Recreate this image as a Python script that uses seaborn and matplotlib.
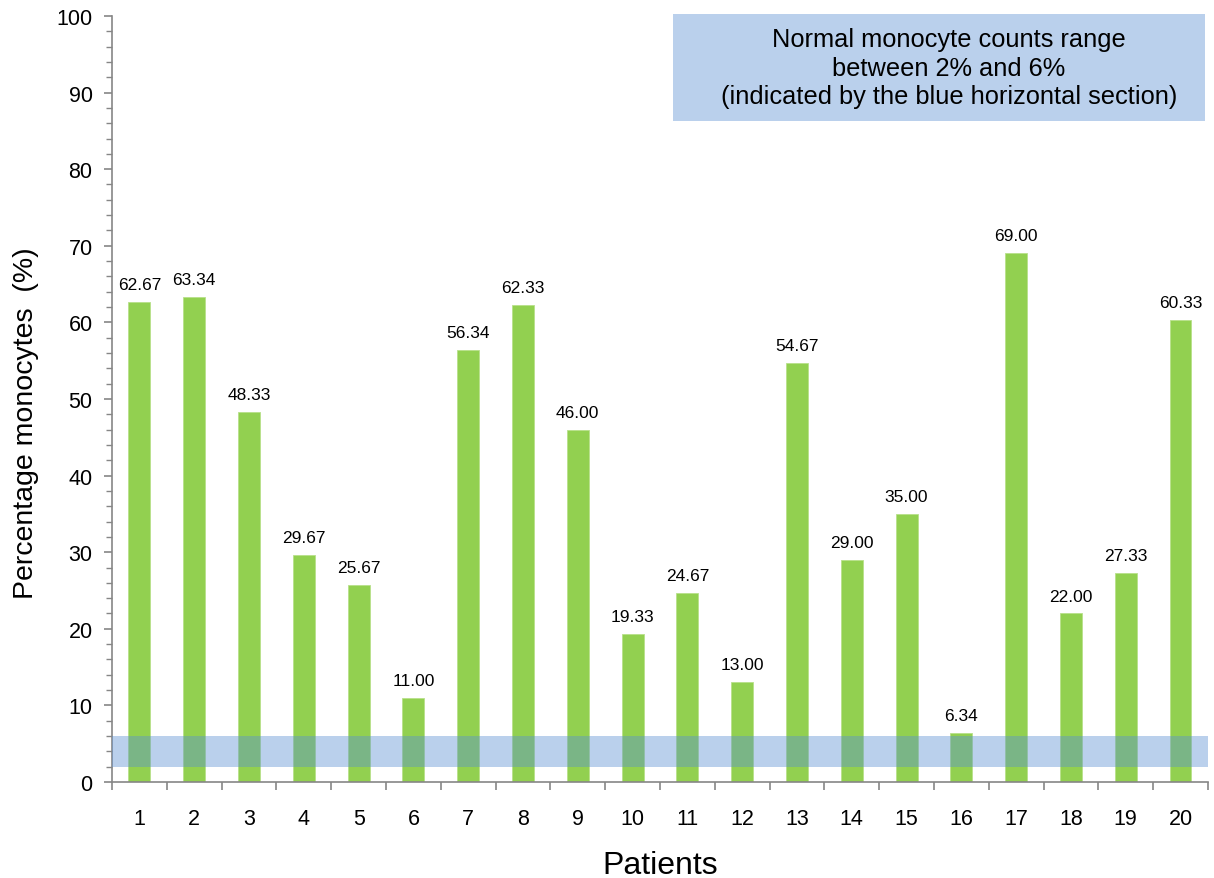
import matplotlib
matplotlib.use("Agg")
import matplotlib.pyplot as plt
import seaborn as sns
import pandas as pd
from matplotlib.patches import Rectangle
from matplotlib.ticker import MultipleLocator

patients = [str(i) for i in range(1, 21)]
monocytes = [62.67, 63.34, 48.33, 29.67, 25.67, 11.00, 56.34, 62.33, 46.00, 19.33,
             24.67, 13.00, 54.67, 29.00, 35.00, 6.34, 69.00, 22.00, 27.33, 60.33]
normal_low = 2
normal_high = 6
note = "Normal monocyte counts range\nbetween 2% and 6%\n(indicated by the blue horizontal section)"

sns.set_theme(style="white")
plt.rcParams['font.family'] = ['Liberation Sans', 'DejaVu Sans']
plt.rcParams['text.color'] = 'black'
plt.rcParams['axes.labelcolor'] = 'black'
plt.rcParams['xtick.labelcolor'] = 'black'
plt.rcParams['ytick.labelcolor'] = 'black'

df = pd.DataFrame({"Patient": patients, "Value": monocytes})

fig = plt.figure(figsize=(12.14, 8.79), dpi=100)
ax = fig.add_axes([0.0923, 0.1092, 0.9027, 0.8715])

sns.barplot(data=df, x="Patient", y="Value", color="#92D050", width=0.4,
            saturation=1, edgecolor="#B8E08A", linewidth=0.6, ax=ax)

ax.axhspan(normal_low, normal_high, color=(91/255, 144/255, 210/255), alpha=0.42,
           linewidth=0, zorder=5)

for i, v in enumerate(monocytes):
    ax.text(i, v + 1.3, f"{v:.2f}", ha="center", va="bottom", fontsize=12.5, color="black")

ax.set_xlim(-0.5, len(patients) - 0.5)
ax.set_ylim(0, 100)
ax.yaxis.set_major_locator(MultipleLocator(10))
ax.yaxis.set_minor_locator(MultipleLocator(2))
ax.set_xticks(range(len(patients)))
ax.set_xticklabels(patients)
ax.set_xticks([i - 0.5 for i in range(len(patients) + 1)], minor=True)

spine_c = "#868686"
for s in ["top", "right"]:
    ax.spines[s].set_visible(False)
for s in ["left", "bottom"]:
    ax.spines[s].set_color(spine_c)
    ax.spines[s].set_linewidth(1.2)

ax.tick_params(axis="y", which="major", direction="out", length=6, width=1.2, color=spine_c,
               labelsize=15.5, pad=8, left=True)
ax.tick_params(axis="y", which="minor", direction="out", length=4, width=1.0, color=spine_c, left=True)
ax.tick_params(axis="x", which="major", length=0, labelsize=15.5, pad=19)
ax.tick_params(axis="x", which="minor", direction="out", length=6, width=1.2, color=spine_c, bottom=True)

ax.set_xlabel("Patients", fontsize=23)
ax.xaxis.set_label_coords(0.5, -0.089)
ax.set_ylabel("Percentage monocytes  (%)", fontsize=20.5)
ax.yaxis.set_label_coords(-0.067, 0.47)
ax.grid(False)

fig.patches.append(Rectangle((0.5544, 0.861), 0.4382, 0.122, transform=fig.transFigure,
                             facecolor="#BAD0EC", edgecolor="none", zorder=10))
fig.text(0.7817, 0.922, note, ha="center", va="center", fontsize=18.3, linespacing=1.22,
         color="black", zorder=11)

fig.savefig("out.png", dpi=100)
